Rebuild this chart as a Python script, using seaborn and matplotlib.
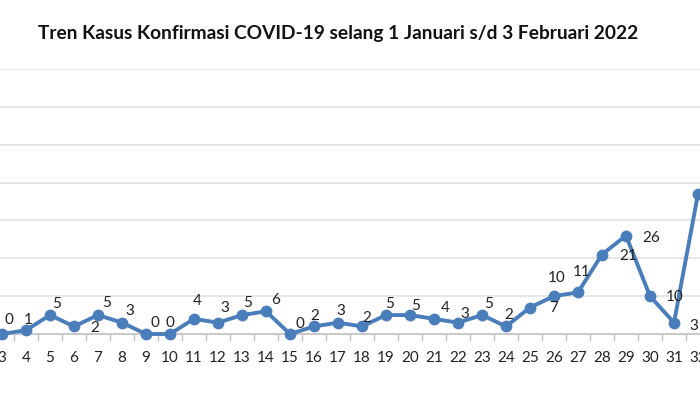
import numpy as np
import pandas as pd
import matplotlib
matplotlib.use("Agg")
import matplotlib.pyplot as plt
import seaborn as sns

# visible part of the chart: days 3..32 (chart is cropped on both sides)
days = list(range(3, 33))
cases = [0, 1, 5, 2, 5, 3, 0, 0, 4, 3, 5, 6, 0, 2, 3, 2, 5, 5, 4, 3, 5, 2,
         7, 10, 11, 21, 26, 10, 3, 37]
# data labels visible in the picture (the one for day 32 is cropped away)
labels = ["0", "1", "5", "2", "5", "3", "0", "0", "4", "3", "5", "6", "0", "2",
          "3", "2", "5", "5", "4", "3", "5", "2", "7", "10", "11", "21", "26",
          "10", "3", ""]
title = "Tren Kasus Konfirmasi COVID-19 selang 1 Januari s/d 3 Februari 2022"

# label offsets in pixels (dx, dy) relative to each point, as placed in the original
label_offsets = [(7, 14), (2, 10), (7, 11), (21, -2), (9, 12), (8, 12), (9, 11),
                 (0, 11), (3, 18), (7, 15), (6, 12), (10, 11), (10, 10), (1, 10),
                 (3, 12), (5, 8), (4, 11), (6, 9), (11, 11), (7, 9), (7, 11),
                 (3, 11), (24, -1), (3, 18), (4, 20), (26, -2), (25, -2),
                 (25, -1), (20, -3), (20, 0)]

df = pd.DataFrame({"day": days, "cases": cases})

sns.set_style("white")
plt.rcParams["font.family"] = ["Lato", "DejaVu Sans"]

blue = "#4a7ebb"

fig = plt.figure(figsize=(7, 3.93), dpi=100)
ax = fig.add_axes([0, 59 / 393, 1, 265 / 393])

sns.lineplot(data=df, x="day", y="cases", ax=ax, color=blue, linewidth=2.8,
             marker="o", markersize=8.5, markeredgewidth=0, clip_on=False, zorder=3)

for d, v, lab, (dx, dy) in zip(days, cases, labels, label_offsets):
    if lab:
        ax.annotate(lab, (d, v), xytext=(dx, dy), textcoords="offset pixels",
                    ha="center", va="center", fontsize=11, color="#222222",
                    annotation_clip=False)

ax.set_yticks(np.arange(10, 71, 10))
ax.yaxis.grid(True, color="#e4e4e4", linewidth=1.3)
ax.set_yticklabels([])
ax.tick_params(axis="y", length=0)

ax.set_xticks(days)
ax.set_xticklabels([str(d) for d in days])
ax.set_xticks(np.arange(2.5, 33.5, 1), minor=True)
ax.tick_params(axis="x", which="major", length=0, pad=12, labelsize=11,
               labelcolor="#222222")
ax.tick_params(axis="x", which="minor", length=5, width=1, color="#bfbfbf",
               direction="out", bottom=True)

# limits last, so the tick setting does not widen them
ax.set_xlim(3 - 2 / 24.0, 32 + 2 / 24.0)
ax.set_ylim(0, 70)

for s in ["top", "left", "right"]:
    ax.spines[s].set_visible(False)
ax.spines["bottom"].set_color("#bfbfbf")
ax.spines["bottom"].set_linewidth(1.2)
ax.set_xlabel("")
ax.set_ylabel("")

fig.text(338 / 700, 1 - 33 / 393, title, ha="center", va="center",
         fontsize=13.8, fontweight="bold", color="#111111")

fig.savefig("out.png", dpi=100)
plt.close("all")
